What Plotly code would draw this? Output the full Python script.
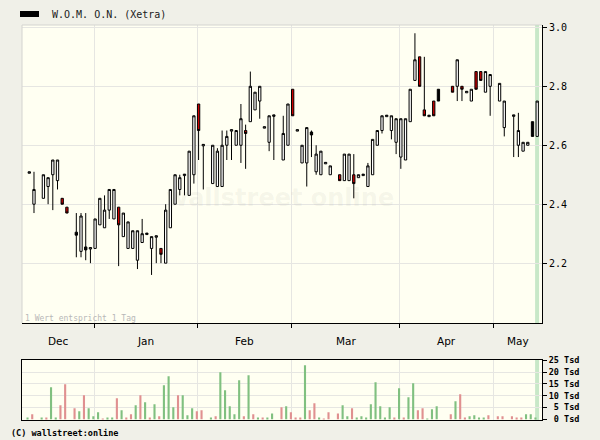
import plotly.graph_objects as go

# ---------------- data (trading-day index, OHLC, candle kind, volume) -------------
day = [0, 1, 3, 4, 5, 6, 7, 8, 10, 11, 12, 13, 14, 15, 16, 17, 18, 19, 20, 21, 22, 23,
       24, 25, 26, 27, 28, 29, 30, 31, 32, 33, 34, 35, 36, 37, 39, 40, 41, 42, 43, 44,
       45, 46, 47, 48, 49, 50, 51, 52, 54, 55, 56, 57, 58, 59, 60, 61, 62, 63, 64, 66,
       67, 68, 69, 70, 71, 72, 73, 74, 75, 76, 77, 78, 79, 80, 81, 82, 83, 84, 85, 86,
       87, 90, 91, 92, 93, 94, 95, 96, 97, 98, 100, 101, 103, 104, 105, 106, 107, 108]
open_ = [2.505, 2.40, 2.42, 2.46, 2.50, 2.48, 2.42, 2.39, 2.305, 2.24, 2.255, 2.248, 2.25, 2.33,
         2.32, 2.38, 2.35, 2.39, 2.29, 2.25, 2.25, 2.21, 2.27, 2.297, 2.25, 2.288, 2.25, 2.20,
         2.32, 2.40, 2.45, 2.497, 2.43, 2.50, 2.74, 2.598, 2.47, 2.46, 2.46, 2.60, 2.648, 2.60,
         2.60, 2.65, 2.68, 2.72, 2.75, 2.658, 2.61, 2.698, 2.55, 2.60, 2.79, 2.648, 2.54, 2.54,
         2.645, 2.51, 2.50, 2.537, 2.50, 2.50, 2.48, 2.48, 2.50, 2.49, 2.497, 2.46, 2.50, 2.60,
         2.65, 2.697, 2.65, 2.61, 2.56, 2.55, 2.68, 2.82, 2.90, 2.72, 2.697, 2.75, 2.79, 2.80,
         2.80, 2.80, 2.778, 2.75, 2.85, 2.85, 2.78, 2.80, 2.75, 2.66, 2.698, 2.60, 2.58, 2.60,
         2.68, 2.63]
high = [2.51, 2.51, 2.50, 2.49, 2.55, 2.55, 2.42, 2.39, 2.37, 2.37, 2.37, 2.253, 2.35, 2.42,
        2.43, 2.45, 2.45, 2.39, 2.37, 2.34, 2.31, 2.31, 2.35, 2.302, 2.29, 2.293, 2.25, 2.40,
        2.45, 2.50, 2.50, 2.502, 2.58, 2.70, 2.74, 2.603, 2.60, 2.59, 2.65, 2.65, 2.653, 2.65,
        2.74, 2.67, 2.85, 2.78, 2.80, 2.663, 2.70, 2.703, 2.70, 2.74, 2.79, 2.653, 2.60, 2.66,
        2.65, 2.60, 2.58, 2.542, 2.53, 2.50, 2.57, 2.57, 2.57, 2.50, 2.502, 2.54, 2.62, 2.65,
        2.70, 2.702, 2.70, 2.69, 2.69, 2.69, 2.79, 2.98, 2.90, 2.90, 2.702, 2.75, 2.79, 2.80,
        2.89, 2.80, 2.783, 2.79, 2.85, 2.85, 2.85, 2.84, 2.81, 2.75, 2.703, 2.71, 2.61, 2.61,
        2.68, 2.75]
low = [2.505, 2.37, 2.42, 2.40, 2.38, 2.45, 2.40, 2.37, 2.22, 2.22, 2.21, 2.20, 2.25, 2.33,
       2.32, 2.35, 2.35, 2.19, 2.29, 2.25, 2.25, 2.18, 2.27, 2.297, 2.16, 2.20, 2.20, 2.20,
       2.32, 2.40, 2.43, 2.43, 2.43, 2.47, 2.55, 2.45, 2.47, 2.46, 2.46, 2.55, 2.55, 2.60,
       2.54, 2.52, 2.68, 2.72, 2.69, 2.658, 2.58, 2.55, 2.55, 2.60, 2.70, 2.648, 2.54, 2.46,
       2.56, 2.50, 2.50, 2.537, 2.50, 2.48, 2.48, 2.48, 2.42, 2.49, 2.497, 2.46, 2.50, 2.60,
       2.64, 2.697, 2.62, 2.57, 2.52, 2.55, 2.68, 2.82, 2.80, 2.70, 2.697, 2.70, 2.75, 2.78,
       2.75, 2.75, 2.778, 2.75, 2.79, 2.82, 2.78, 2.70, 2.75, 2.63, 2.56, 2.56, 2.58, 2.60,
       2.63, 2.63]
close = [2.51, 2.45, 2.50, 2.49, 2.55, 2.55, 2.40, 2.37, 2.295, 2.36, 2.245, 2.253, 2.35, 2.42,
         2.38, 2.45, 2.45, 2.33, 2.37, 2.34, 2.31, 2.31, 2.30, 2.302, 2.29, 2.293, 2.23, 2.38,
         2.45, 2.50, 2.49, 2.502, 2.58, 2.70, 2.65, 2.603, 2.60, 2.58, 2.60, 2.63, 2.653, 2.65,
         2.69, 2.64, 2.80, 2.78, 2.80, 2.663, 2.70, 2.703, 2.64, 2.74, 2.70, 2.653, 2.60, 2.66,
         2.635, 2.57, 2.58, 2.542, 2.53, 2.48, 2.57, 2.57, 2.47, 2.50, 2.502, 2.53, 2.62, 2.65,
         2.70, 2.702, 2.70, 2.69, 2.69, 2.69, 2.79, 2.89, 2.80, 2.70, 2.702, 2.70, 2.75, 2.78,
         2.89, 2.79, 2.783, 2.79, 2.79, 2.82, 2.85, 2.84, 2.81, 2.75, 2.703, 2.65, 2.61, 2.61,
         2.63, 2.75]
kind = ['w', 'w', 'w', 'w', 'w', 'w', 'r', 'r', 'b', 'w', 'b', 'w', 'w', 'w', 'w', 'w', 'w', 'r',
        'w', 'w', 'w', 'w', 'w', 'w', 'w', 'w', 'r', 'w', 'w', 'w', 'w', 'w', 'w', 'w', 'r', 'w',
        'w', 'w', 'w', 'w', 'w', 'w', 'w', 'r', 'w', 'w', 'w', 'w', 'w', 'w', 'w', 'w', 'r', 'w',
        'w', 'w', 'b', 'w', 'w', 'w', 'w', 'r', 'w', 'w', 'r', 'w', 'w', 'w', 'w', 'w', 'w', 'w',
        'w', 'w', 'w', 'w', 'w', 'w', 'r', 'r', 'w', 'r', 'b', 'r', 'w', 'r', 'w', 'w', 'r', 'r',
        'w', 'w', 'w', 'w', 'w', 'w', 'w', 'w', 'b', 'w']
volume = [0.4, 2.1, 0.4, 0.4, 13.6, 0.8, 5.9, 14.8, 4.7, 3.4, 10.2, 4.7, 1.3, 3.0, 0.3, 0.8,
          0.8, 8.9, 3.8, 0.8, 2.1, 5.9, 10.2, 7.2, 0.8, 6.4, 1.3, 14.4, 18.2, 5.1, 10.2, 10.2,
          1.7, 4.7, 3.4, 3.8, 0.4, 1.3, 19.9, 12.3, 5.5, 2.1, 16.5, 1.3, 18.6, 2.1, 0.4, 0.4,
          0.8, 2.5, 5.1, 5.5, 3.0, 0.8, 0.8, 22.9, 3.8, 6.8, 0.4, 0.2, 3.0, 2.5, 5.9, 1.3, 4.7,
          0.8, 1.3, 0.4, 6.4, 15.7, 5.5, 0.8, 5.1, 0.8, 13.1, 0.8, 9.3, 15.3, 3.8, 4.7, 0.3,
          4.2, 5.5, 2.1, 7.6, 10.6, 0.4, 1.3, 1.7, 0.4, 0.4, 1.7, 1.3, 1.3, 1.3, 0.8, 0.4, 2.1,
          2.1, 0.4]
vol_dir = ['g', 'r', 'g', 'r', 'g', 'g', 'r', 'r', 'r', 'g', 'r', 'g', 'g', 'g', 'r', 'g', 'g',
           'r', 'g', 'r', 'r', 'g', 'r', 'g', 'r', 'g', 'r', 'g', 'g', 'g', 'r', 'g', 'g', 'g',
           'r', 'r', 'g', 'r', 'g', 'g', 'g', 'g', 'g', 'r', 'g', 'r', 'g', 'r', 'g', 'g', 'r',
           'g', 'r', 'r', 'r', 'g', 'r', 'r', 'g', 'r', 'r', 'r', 'g', 'g', 'r', 'g', 'g', 'g',
           'g', 'g', 'g', 'g', 'g', 'r', 'g', 'r', 'g', 'g', 'r', 'r', 'g', 'g', 'g', 'r', 'g',
           'r', 'r', 'g', 'g', 'g', 'g', 'r', 'r', 'r', 'r', 'r', 'r', 'g', 'g', 'g']

month_names = ['Dec', 'Jan', 'Feb', 'Mar', 'Apr', 'May']
month_first_day = [14, 36, 56, 79, 99]
price_ticks = [2.2, 2.4, 2.6, 2.8, 3.0]
vol_ticks = [0, 5, 10, 15, 20, 25]

# ---------------- style ----------------
PAPER = '#F0F0E8'
PLOT = '#FFFFF2'
GRID = '#E6E6E2'
MONO = 'DejaVu Sans Mono'
kind_fill = {'w': '#FFFFFF', 'r': '#CC0000', 'b': '#000000'}
vol_color = {'g': '#80C080', 'r': '#E09090'}

X_RANGE = [-1.55, 109.02]
W, H = 600, 440
ML, MR, MT, MB = 22, 58, 25, 20
PW, PH = W - ML - MR, H - MT - MB


def px_x(px):
    return (px - ML) / PW


def px_y(py):
    return (H - MB - py) / PH


fig = go.Figure()

for k in ['w', 'r', 'b']:
    idx = [i for i, kk in enumerate(kind) if kk == k]
    style = dict(fillcolor=kind_fill[k], line=dict(color='#000000', width=1))
    fig.add_trace(go.Candlestick(
        x=[day[i] for i in idx],
        open=[open_[i] for i in idx],
        high=[high[i] for i in idx],
        low=[low[i] for i in idx],
        close=[close[i] for i in idx],
        increasing=style, decreasing=style,
        whiskerwidth=0, showlegend=False, hoverinfo='skip',
        xaxis='x', yaxis='y'))

fig.add_trace(go.Bar(
    x=day, y=volume,
    marker=dict(color=[vol_color[c] for c in vol_dir], line=dict(width=0)),
    width=0.45, offset=-0.6,
    showlegend=False, hoverinfo='skip', xaxis='x2', yaxis='y2'))

grid_x = [d - 0.2 for d in month_first_day]
bounds = [X_RANGE[0]] + grid_x + [X_RANGE[1]]
mid = [(bounds[i] + bounds[i + 1]) / 2 for i in range(len(month_names))]

price_top, price_bot = 1.0, px_y(323)
vol_top, vol_bot = px_y(359.5), 0.0


def vol_label(v):
    s = '%d Tsd' % v
    return '<b>' + '\u00a0' * (6 - len(s)) + s + '</b>'


fig.update_layout(
    width=W, height=H,
    margin=dict(l=ML, r=MR, t=MT, b=MB),
    paper_bgcolor=PAPER, plot_bgcolor=PLOT,
    showlegend=False,
    boxgap=0.3,
    xaxis=dict(domain=[0, 1], range=X_RANGE, anchor='y',
               tickvals=grid_x, ticktext=[''] * len(grid_x),
               ticks='outside', ticklen=4, tickcolor='#000000',
               showline=True, linecolor='#000000', linewidth=1,
               showgrid=True, gridcolor=GRID, zeroline=False,
               rangeslider=dict(visible=False), fixedrange=True),
    yaxis=dict(domain=[price_bot, price_top], range=[1.997, 3.008], side='right',
               anchor='x', tickvals=price_ticks,
               ticktext=['%.1f' % v for v in price_ticks],
               ticks='outside', ticklen=4, tickcolor='#000000',
               showline=True, linecolor='#000000', linewidth=1,
               showgrid=True, gridcolor=GRID, zeroline=False,
               tickfont=dict(family=MONO, size=10, color='#000000'),
               fixedrange=True),
    xaxis2=dict(domain=[0, 1], range=X_RANGE, anchor='y2', matches='x',
                tickvals=grid_x, showticklabels=False, ticks='',
                showline=True, mirror=True, linecolor='#000000', linewidth=1,
                showgrid=True, gridcolor=GRID, zeroline=False, fixedrange=True),
    yaxis2=dict(domain=[vol_bot, vol_top], range=[-0.3, 25.3], side='right',
                anchor='x2', tickvals=vol_ticks,
                ticktext=[vol_label(v) for v in vol_ticks],
                ticks='outside', ticklen=4, tickcolor='#000000',
                showline=True, mirror=True, linecolor='#000000', linewidth=1,
                showgrid=True, gridcolor=GRID, zeroline=False,
                tickfont=dict(family=MONO, size=8.5, color='#000000'),
                fixedrange=True),
)

shapes = [
    # light border on the left and top of the price panel
    dict(type='line', xref='x domain', yref='y domain', x0=0, x1=0, y0=0, y1=1,
         line=dict(color='#D4D4D0', width=1), layer='above'),
    dict(type='line', xref='x domain', yref='y domain', x0=0, x1=1, y0=1, y1=1,
         line=dict(color='#D4D4D0', width=1), layer='above'),
    # highlight of the latest day
    dict(type='rect', xref='x', yref='y domain', x0=day[-1] - 0.45, x1=day[-1] + 0.4,
         y0=0, y1=1, fillcolor='#C8E8C8', line=dict(width=0), layer='below'),
    dict(type='rect', xref='x2', yref='y2 domain', x0=day[-1] - 0.45, x1=day[-1] + 0.4,
         y0=0, y1=1, fillcolor='#C8E8C8', line=dict(width=0), layer='below'),
    # legend key
    dict(type='rect', xref='paper', yref='paper', x0=px_x(20), x1=px_x(39),
         y0=px_y(17), y1=px_y(11), fillcolor='#000000', line=dict(width=0)),
]
fig.update_layout(shapes=shapes)

ann = []
for name, m in zip(month_names, mid):
    ann.append(dict(x=m, y=px_y(341), xref='x', yref='paper', text=name,
                    showarrow=False, xanchor='center', yanchor='middle',
                    font=dict(family='DejaVu Sans', size=10.5, color='#000000')))
ann += [
    dict(x=px_x(50), y=px_y(14), xref='paper', yref='paper', text='W.O.M. O.N. (Xetra)',
         showarrow=False, xanchor='left', yanchor='middle',
         font=dict(family=MONO, size=10, color='#202020')),
    dict(x=px_x(23), y=px_y(318), xref='paper', yref='paper', text='1 Wert entspricht 1 Tag',
         showarrow=False, xanchor='left', yanchor='middle',
         font=dict(family=MONO, size=8, color='#B8B8B8')),
    dict(x=px_x(9), y=px_y(433), xref='paper', yref='paper', text='<b>(C) wallstreet:online</b>',
         showarrow=False, xanchor='left', yanchor='middle',
         font=dict(family=MONO, size=8.5, color='#000000')),
    dict(x=px_x(280), y=px_y(198), xref='paper', yref='paper', text='<b>wallstreet online</b>',
         showarrow=False, xanchor='center', yanchor='middle',
         font=dict(family='DejaVu Sans', size=24, color='rgba(120,120,100,0.07)')),
]
fig.update_layout(annotations=ann)

fig.write_html('out.html', config={'displayModeBar': False},
               post_script="document.body.style.margin='0';")
